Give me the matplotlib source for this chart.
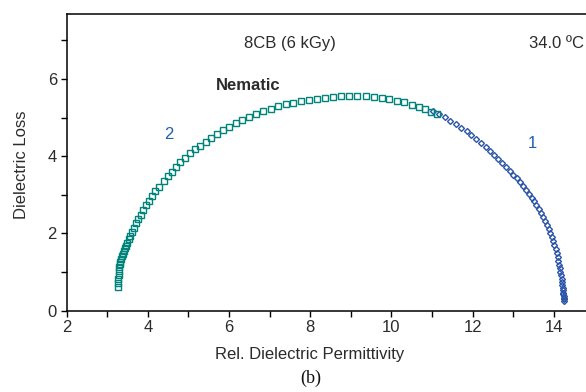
import matplotlib
matplotlib.use("Agg")
import matplotlib.pyplot as plt
from matplotlib.ticker import MultipleLocator, FixedLocator

plt.rcParams["font.family"] = ["Liberation Sans", "DejaVu Sans"]

# series 2 (teal squares): eps', eps''
x2 = [3.26, 3.27, 3.27, 3.28, 3.29, 3.30, 3.31, 3.32, 3.34, 3.36, 3.38, 3.40,
      3.43, 3.46, 3.49, 3.53, 3.57, 3.61, 3.66, 3.71, 3.76, 3.82, 3.88, 3.95,
      4.02, 4.10, 4.18, 4.27, 4.40, 4.49, 4.59, 4.69, 4.80, 4.92, 5.04, 5.16,
      5.29, 5.42, 5.56, 5.70, 5.85, 6.00, 6.16, 6.32, 6.49, 6.66, 6.84, 7.02,
      7.20, 7.39, 7.58, 7.77, 7.96, 8.16, 8.36, 8.56, 8.76, 8.96, 9.16, 9.36,
      9.56, 9.76, 9.95, 10.14, 10.32, 10.50, 10.67, 10.83, 10.98, 11.11]
y2 = [0.61, 0.72, 0.82, 0.92, 1.02, 1.12, 1.21, 1.27, 1.34, 1.41, 1.48, 1.54,
      1.61, 1.68, 1.76, 1.85, 1.94, 2.03, 2.15, 2.26, 2.37, 2.49, 2.61, 2.73,
      2.85, 2.98, 3.09, 3.20, 3.36, 3.48, 3.60, 3.71, 3.84, 3.96, 4.08, 4.18,
      4.27, 4.37, 4.47, 4.57, 4.67, 4.76, 4.85, 4.94, 5.02, 5.10, 5.17, 5.23,
      5.29, 5.34, 5.38, 5.42, 5.45, 5.48, 5.51, 5.53, 5.55, 5.56, 5.56, 5.55,
      5.53, 5.51, 5.47, 5.43, 5.39, 5.33, 5.27, 5.21, 5.15, 5.09]

# series 1 (blue diamonds)
x1 = [11.01, 11.16, 11.31, 11.45, 11.59, 11.72, 11.85, 11.97, 12.09, 12.21,
      12.32, 12.43, 12.53, 12.63, 12.73, 12.82, 12.91, 13.00, 13.08, 13.16,
      13.24, 13.31, 13.38, 13.45, 13.51, 13.57, 13.63, 13.68, 13.73, 13.78,
      13.83, 13.87, 13.91, 13.95, 13.98, 14.01, 14.04, 14.07, 14.09, 14.11,
      14.13, 14.15, 14.16, 14.18, 14.19, 14.20, 14.21, 14.22, 14.22, 14.23,
      14.23, 14.24, 14.24, 14.24, 14.25]
y1 = [5.18, 5.10, 5.01, 4.92, 4.82, 4.73, 4.64, 4.54, 4.45, 4.35,
      4.24, 4.14, 4.03, 3.93, 3.83, 3.72, 3.62, 3.52, 3.43, 3.33,
      3.23, 3.13, 3.03, 2.93, 2.83, 2.74, 2.63, 2.53, 2.43, 2.33,
      2.23, 2.12, 2.01, 1.90, 1.80, 1.70, 1.60, 1.49, 1.39, 1.29,
      1.19, 1.10, 1.01, 0.92, 0.83, 0.75, 0.67, 0.60, 0.53, 0.47,
      0.42, 0.37, 0.33, 0.29, 0.26]

x_ticks = [2, 4, 6, 8, 10, 12, 14]
y_ticks = [0, 2, 4, 6]

TEAL = "#00837a"
BLUE = "#2b55a8"
TXT = "#2b2b2b"

fig = plt.figure(figsize=(5.86, 3.92), dpi=100)
# axes run past the right edge: the reference is cropped there
ax = fig.add_axes([0.1138, 0.2074, 0.97, 0.7569])

ax.plot(x1, y1, ls="none", marker="D", ms=3.0, mfc="none", mec=BLUE, mew=1.0)
ax.plot(x2, y2, ls="none", marker="s", ms=3.8, mfc="none", mec=TEAL, mew=1.0)

ax.set_xlim(2, 16)
ax.set_ylim(0, 7.68)
ax.xaxis.set_major_locator(FixedLocator(x_ticks))
ax.xaxis.set_minor_locator(MultipleLocator(1))
ax.yaxis.set_major_locator(FixedLocator(y_ticks))
ax.yaxis.set_minor_locator(MultipleLocator(1))
ax.tick_params(which="both", direction="out", length=4, width=1, labelsize=12,
               labelcolor=TXT, top=False, right=False, pad=3)
ax.spines["right"].set_visible(False)
for s in ("left", "bottom", "top"):
    ax.spines[s].set_linewidth(1.1)

ax.text(7.5, 6.91, "8CB (6 kGy)", ha="center", va="center", fontsize=12, color=TXT)
ax.text(14.74, 6.91, "34.0 ºC", ha="right", va="center", fontsize=12, color=TXT)
ax.text(6.47, 5.84, "Nematic", ha="center", va="center", fontsize=12,
        fontweight="bold", color=TXT)
ax.text(4.52, 4.55, "2", ha="center", va="center", fontsize=12, color="#1f5fb0")
ax.text(13.46, 4.34, "1", ha="center", va="center", fontsize=12, color="#1f5fb0")

fig.text(310 / 586, 1 - 355 / 392, "Rel. Dielectric Permittivity", ha="center",
         va="center", fontsize=12, color=TXT)
fig.text(22 / 586, 1 - 165 / 392, "Dielectric Loss", ha="center", va="center",
         rotation=90, fontsize=12, color=TXT)
fig.text(311 / 586, 1 - 378 / 392, "(b)", ha="center", va="center", fontsize=13,
         family=["Liberation Serif", "DejaVu Serif"], color="#111111")

fig.savefig("out.png", dpi=100)
